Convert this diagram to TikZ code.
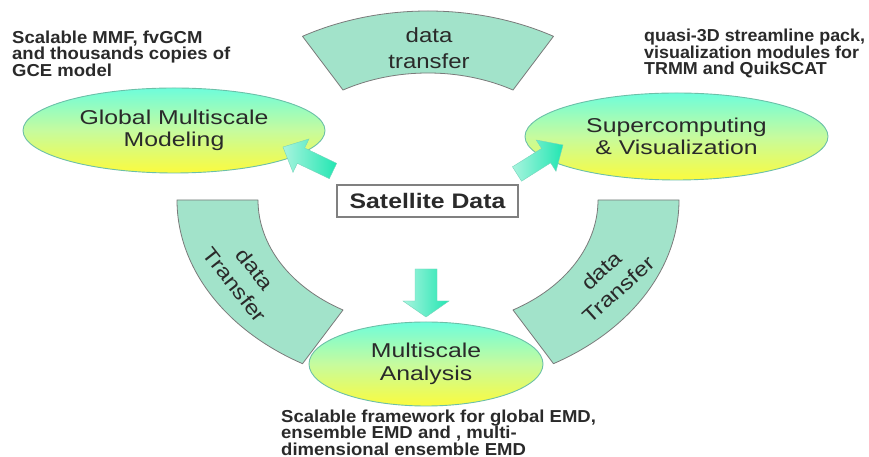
\documentclass[tikz,border=0pt]{standalone}
\usepackage{fontspec}
\setmainfont{Liberation Sans}
\newfontfamily\smallfont[FakeStretch=1.07]{Liberation Sans}
\newfontfamily\smallfontb[FakeStretch=1.035]{Liberation Sans}
\newfontfamily\bigfont[FakeStretch=1.24]{Liberation Sans}
\newfontfamily\arcfont[FakeStretch=1.17]{Liberation Sans}
\newfontfamily\satfont[FakeStretch=1.18]{Liberation Sans}
\usetikzlibrary{shapes.geometric,calc}
\definecolor{arcfill}{HTML}{A2E3CA}
\definecolor{arcline}{HTML}{7A7A7A}
\definecolor{elltop}{HTML}{6EFDDB}
\definecolor{ellmid}{HTML}{C6FB9E}
\definecolor{ellbot}{HTML}{FBFB3E}
\definecolor{ellline}{HTML}{6CC0A8}
\definecolor{arrhead}{HTML}{22E6B2}
\definecolor{arrtail}{HTML}{A8F4DE}
\definecolor{txt}{HTML}{2A2A2A}
\tikzset{
  arcstyle/.style={fill=arcfill,draw=arcline,line width=0.8pt,line join=round},
  ellnode/.style={ellipse,draw=ellline,line width=0.9pt,top color=elltop,bottom color=ellbot,middle color=ellmid,inner sep=0pt,align=center,text=txt,font=\bigfont\fontsize{20}{22.5}\selectfont},
  arctext/.style={align=center,text=txt,inner sep=0pt,font=\arcfont\fontsize{20.5}{25.5}\selectfont},
  smalltext/.style={align=left,text=txt,inner sep=0pt,anchor=north west,font=\smallfont\bfseries\fontsize{17.3}{16.6}\selectfont},
  satbox/.style={draw=black!50,line width=1.1pt,fill=white,minimum width=181pt,minimum height=32pt,inner sep=0pt,text=txt,font=\satfont\bfseries\fontsize{21}{24}\selectfont},
  barrowstyle/.style={left color=arrtail,right color=arrhead,draw=arrhead!80!black!60,line width=0.4pt,line join=miter}
}
\newcommand\blockarc[2]{%
  \path[arcstyle] ($(ctr)+(#1:251 and 189)$) arc[start angle=#1,end angle=#2,x radius=251,y radius=189]
    -- ($(ctr)+(#2:170 and 127)$) arc[start angle=#2,end angle=#1,x radius=170,y radius=127] -- cycle;}
\newcommand\barrow[6]{%
  \begin{scope}[shift={#1},rotate=#2]
    \path[barrowstyle] (0,-#4) -- ({#3-#6},-#4) -- ({#3-#6},-#5) -- (#3,0) -- ({#3-#6},#5) -- ({#3-#6},#4) -- (0,#4) -- cycle;
  \end{scope}}
\begin{document}
\begin{tikzpicture}[x=1pt,y=1pt]
\useasboundingbox (0,0) rectangle (869,457);
\fill[white] (0,0) rectangle (869,457);
\coordinate (ctr) at (428,257);
% block arcs
\blockarc{60}{120}
\blockarc{180}{240}
\blockarc{-60}{0}
\node[arctext] (ttop) at (429,409) {data\\transfer};
\node[arctext,rotate=-52] (tleft) at (245,180) {data\\Transfer};
\node[arctext,rotate=42] (tright) at (610,177) {data\\Transfer};
% ellipses
\node[ellnode,minimum width=302pt,minimum height=85pt] (gm) at (174,326.5) {Global Multiscale\\Modeling};
\node[ellnode,minimum width=303pt,minimum height=87pt] (sv) at (676.5,320.5) {Supercomputing\\\& Visualization};
\node[ellnode,minimum width=234pt,minimum height=84pt] (ma) at (426,93) {Multiscale\\Analysis};
% satellite box
\node[satbox] (sat) at (427.5,256) {Satellite Data};
% block arrows
\coordinate (la) at (333,286);
\coordinate (ra) at (517,283);
\coordinate (da) at (426,188);
\barrow{(la)}{154.4}{55.5}{8.5}{18.5}{20}
\barrow{(ra)}{32.2}{54.4}{8.5}{18.5}{20}
\barrow{(da)}{-90}{48}{11}{23}{16}
% descriptions
\node[smalltext] (dgm) at (12,426.5) {Scalable MMF, fvGCM\\and thousands copies of\\GCE model};
\node[smalltext,font=\smallfontb\bfseries\fontsize{17.3}{16.4}\selectfont] (dsv) at (644,427.8) {quasi-3D streamline pack,\\visualization modules for\\TRMM and QuikSCAT};
\node[smalltext] (dma) at (281,47.5) {Scalable framework for global EMD,\\ensemble EMD and , multi-\\dimensional ensemble EMD};
\end{tikzpicture}
\end{document}
